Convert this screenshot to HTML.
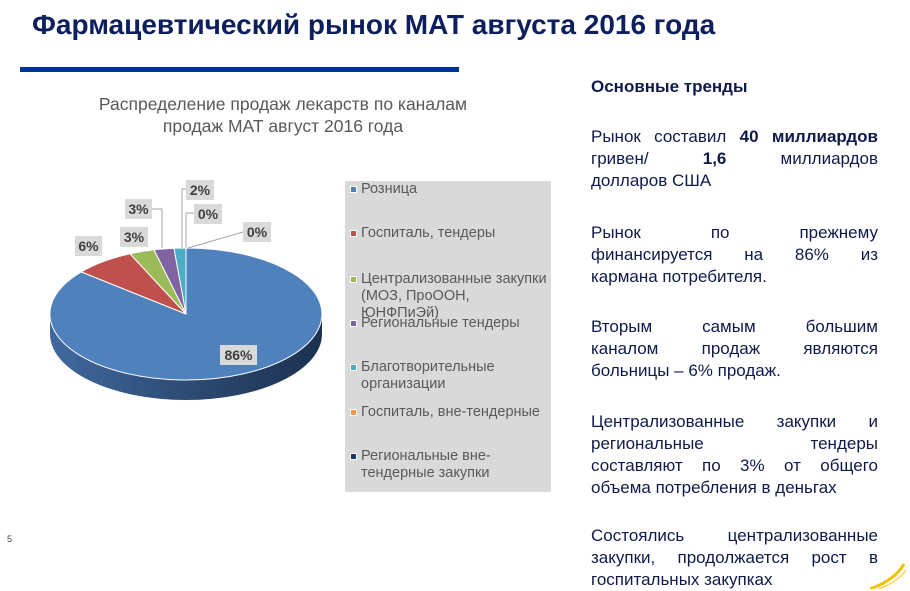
<!DOCTYPE html>
<html><head><meta charset="utf-8"><style>
body{margin:0;width:910px;height:589px;background:#fff;position:relative;overflow:hidden;font-family:"Liberation Sans","Noto Sans CJK SC",sans-serif}
.a{position:absolute;white-space:nowrap}
.t{position:absolute;left:591px;width:287px;font-size:17px;color:#0f1a4a;line-height:22px}
.t div{text-align:justify;text-align-last:justify;white-space:nowrap}
.t div.l{text-align-last:left}
.lg{position:absolute;font-size:14.5px;color:#595959;line-height:17px;white-space:nowrap}
.lg i{position:absolute;left:-11px;top:5px;width:5px;height:5px;border:1px solid #fff}
.lb{position:absolute;background:#d9d9d9;font-weight:bold;font-size:14px;color:#404040;text-align:center;line-height:20px;height:20px}
</style></head><body>
<div class="a" style="left:32px;top:9px;font-size:28px;font-weight:bold;color:#0d1f5c">Фармацевтический рынок МАТ августа 2016 года</div>
<div class="a" style="left:20px;top:67px;width:439px;height:5px;background:#003399"></div>
<div class="a" style="left:0;width:566px;top:93px;text-align:center;font-size:17.5px;color:#595959;line-height:22px">Распределение продаж лекарств по каналам<br>продаж МАТ август 2016 года</div>
<svg class="a" style="left:0;top:0" width="560" height="589">
<defs><linearGradient id="g" x1="0" x2="1"><stop offset="0" stop-color="#41699f"/><stop offset="0.5" stop-color="#2d4b74"/><stop offset="1" stop-color="#1c3150"/></linearGradient></defs>
<path d="M50,314 L50,334 A136,66 0 0 0 322,334 L322,314 A136,66 0 0 1 50,314Z" fill="url(#g)"/>
<g stroke="#fff" stroke-width="1">
<path d="M186,314 L186,248 A136,66 0 1 1 81.2,271.9Z" fill="#4f81bd"/>
<path d="M186,314 L81.2,271.9 A136,66 0 0 1 130,253.8Z" fill="#c0504d"/>
<path d="M186,314 L130,253.8 A136,66 0 0 1 154,249.8Z" fill="#9bbb59"/>
<path d="M186,314 L154,249.8 A136,66 0 0 1 174,248.3Z" fill="#8064a2"/>
<path d="M186,314 L174,248.3 A136,66 0 0 1 186,248Z" fill="#4bacc6"/>
</g>
<g stroke="#a6a6a6" fill="none" stroke-width="1">
<path d="M152,209 H162 V248"/><path d="M186,189 H182 V248"/><path d="M194,213 H186 V248"/><path d="M243,232 L188,248"/>
</g>
</svg>
<svg class="a" style="left:860px;top:560px" width="50" height="29"><path d="M10,29 Q35,20 44,4" stroke="#f2c200" stroke-width="3" fill="none"/><path d="M18,29 Q38,22 46,10" stroke="#f7d84a" stroke-width="1.5" fill="none"/></svg>
<div class="lb" style="left:220px;top:345px;width:37px">86%</div>
<div class="lb" style="left:75px;top:236px;width:27px">6%</div>
<div class="lb" style="left:120px;top:227px;width:28px">3%</div>
<div class="lb" style="left:125px;top:199px;width:27px">3%</div>
<div class="lb" style="left:186px;top:180px;width:28px">2%</div>
<div class="lb" style="left:194px;top:204px;width:28px">0%</div>
<div class="lb" style="left:243px;top:222px;width:28px">0%</div>
<div class="a" style="left:345px;top:181px;width:206px;height:311px;background:#d9d9d9"></div>
<div class="lg" style="left:361px;top:181px"><i style="background:#4f81bd"></i>Розница</div>
<div class="lg" style="left:361px;top:225px"><i style="background:#c0504d"></i>Госпиталь, тендеры</div>
<div class="lg" style="left:361px;top:271px"><i style="background:#9bbb59"></i>Централизованные закупки<br>(МОЗ, ПроООН,<br>ЮНФПиЭй)</div>
<div class="lg" style="left:361px;top:315px"><i style="background:#8064a2"></i>Региональные тендеры</div>
<div class="lg" style="left:361px;top:359px"><i style="background:#4bacc6"></i>Благотворительные<br>организации</div>
<div class="lg" style="left:361px;top:404px"><i style="background:#f79646"></i>Госпиталь, вне-тендерные</div>
<div class="lg" style="left:361px;top:448px"><i style="background:#1f3864"></i>Региональные вне-<br>тендерные закупки</div>
<div class="a" style="left:7px;top:534px;font-size:9px;color:#404040">5</div>
<div class="t" style="top:76px"><div class="l" style="font-weight:bold">Основные тренды</div></div>
<div class="t" style="top:126px"><div>Рынок составил <b>40 миллиардов</b></div><div>гривен/ <b>1,6</b> миллиардов</div><div class="l">долларов США</div></div>
<div class="t" style="top:222px"><div>Рынок по прежнему</div><div>финансируется на 86% из</div><div class="l">кармана потребителя.</div></div>
<div class="t" style="top:316px"><div>Вторым самым большим</div><div>каналом продаж являются</div><div class="l">больницы – 6% продаж.</div></div>
<div class="t" style="top:411px"><div>Централизованные закупки и</div><div>региональные тендеры</div><div>составляют по 3% от общего</div><div class="l">объема потребления в деньгах</div></div>
<div class="t" style="top:525px"><div>Состоялись централизованные</div><div>закупки, продолжается рост в</div><div class="l">госпитальных закупках</div></div>
</body></html>
